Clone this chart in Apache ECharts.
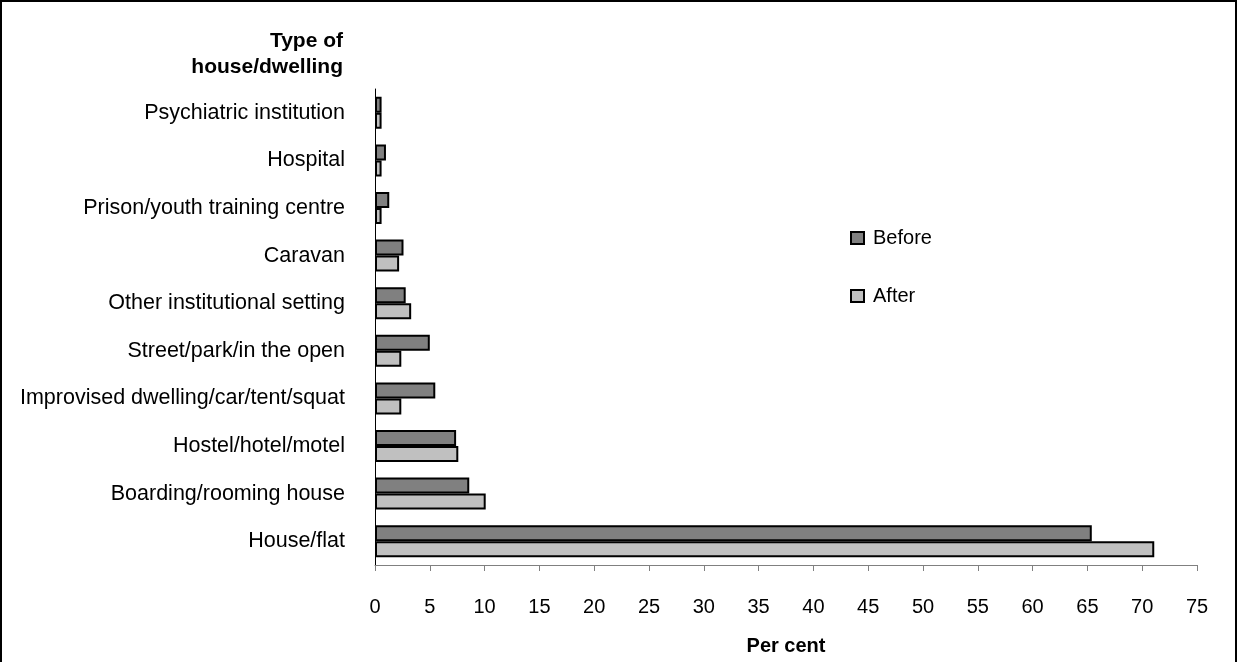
<!DOCTYPE html>
<html>
<head>
<meta charset="utf-8">
<script src="https://cdn.jsdelivr.net/npm/echarts@6/dist/echarts.min.js"></script>
<style>
  html, body { margin: 0; padding: 0; background: #fff; }
  .wrap { position: relative; width: 1237px; height: 662px; }
  #chart { width: 1237px; height: 662px; }
  .frame {
    position: absolute; left: 0; top: 0; width: 1233px; height: 662px;
    border-left: 2px solid #000; border-top: 2px solid #000; border-right: 2px solid #000;
    pointer-events: none;
  }
</style>
</head>
<body>
<div class="wrap">
  <div id="chart"></div>
  <div class="frame"></div>
</div>
<script>
  // categories, top to bottom
  const categories = [
    'Psychiatric institution',
    'Hospital',
    'Prison/youth training centre',
    'Caravan',
    'Other institutional setting',
    'Street/park/in the open',
    'Improvised dwelling/car/tent/squat',
    'Hostel/hotel/motel',
    'Boarding/rooming house',
    'House/flat'
  ]
  const beforeValues = [0.6, 1.0, 1.3, 2.6, 2.8, 5.0, 5.5, 7.4, 8.6, 65.4]
  const afterValues = [0.6, 0.6, 0.6, 2.2, 3.3, 2.4, 2.4, 7.6, 10.1, 71.1]
  const xTicks = { min: 0, max: 75, interval: 5 }

  const font = 'Liberation Sans, Arial, sans-serif'
  const chart = echarts.init(document.getElementById('chart'))

  chart.setOption({
    animation: false,
    textStyle: { fontFamily: font, color: '#000' },
    grid: { left: 375, top: 89, right: 40, height: 476, outerBoundsMode: 'none', containLabel: false },
    legend: {
      orient: 'vertical',
      left: 845,
      top: 223,
      itemWidth: 13,
      itemHeight: 12,
      itemGap: 38,
      textStyle: { fontSize: 20, color: '#000', fontFamily: font, padding: [0, 0, 0, 4] },
      data: [
        { name: 'Before', icon: 'rect' },
        { name: 'After', icon: 'rect' }
      ]
    },
    graphic: [
      {
        type: 'text',
        x: 343,
        y: 41,
        style: { text: 'Type of', align: 'right', verticalAlign: 'middle', font: 'bold 21px ' + font, fill: '#000' }
      },
      {
        type: 'text',
        x: 343,
        y: 67,
        style: { text: 'house/dwelling', align: 'right', verticalAlign: 'middle', font: 'bold 21px ' + font, fill: '#000' }
      }
    ],
    xAxis: {
      type: 'value',
      min: xTicks.min,
      max: xTicks.max,
      interval: xTicks.interval,
      name: 'Per cent',
      nameLocation: 'middle',
      nameGap: 71,
      nameTextStyle: { fontSize: 20, fontWeight: 'bold', color: '#000', fontFamily: font },
      axisLine: { show: true, lineStyle: { color: '#808080', width: 1 } },
      axisTick: { show: true, length: 6, lineStyle: { color: '#808080' } },
      axisLabel: { fontSize: 20, color: '#000', margin: 32, fontFamily: font },
      splitLine: { show: false }
    },
    yAxis: {
      type: 'category',
      inverse: true,
      data: categories,
      axisLine: { show: true, lineStyle: { color: '#000', width: 1 } },
      axisTick: { show: false },
      axisLabel: { fontSize: 21.5, color: '#000', margin: 30, fontFamily: font }
    },
    series: [
      {
        name: 'Before',
        type: 'bar',
        data: beforeValues,
        barWidth: 16,
        barGap: 0,
        itemStyle: { color: '#808080', borderColor: '#000', borderWidth: 2 }
      },
      {
        name: 'After',
        type: 'bar',
        data: afterValues,
        barWidth: 16,
        barGap: 0,
        itemStyle: { color: '#c0c0c0', borderColor: '#000', borderWidth: 2 }
      }
    ]
  })
</script>
</body>
</html>
